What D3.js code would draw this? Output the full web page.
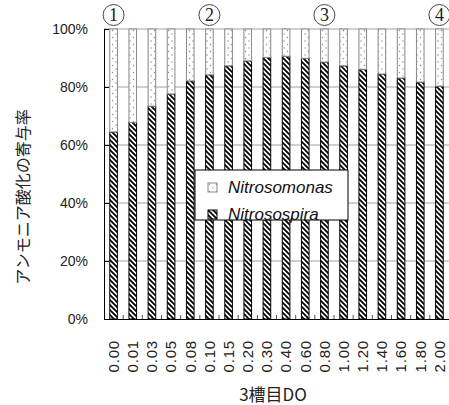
<!DOCTYPE html>
<html lang="ja">
<head>
<meta charset="utf-8">
<script src="https://cdn.jsdelivr.net/npm/d3@7"></script>
<style>
  body { margin: 0; background: #fff; }
  svg { display: block; }
</style>
</head>
<body>
<svg width="449" height="405"></svg>
<script>
// DO levels in the 3rd tank
var categories = ["0.00", "0.01", "0.03", "0.05", "0.08", "0.10", "0.15", "0.20", "0.30",
                  "0.40", "0.60", "0.80", "1.00", "1.20", "1.40", "1.60", "1.80", "2.00"];
// contribution to ammonia oxidation (%)
var nitrosospira = [64.5, 67.8, 73.4, 77.6, 82.1, 84.2, 87.3, 89.0, 90.2,
                    90.6, 89.9, 88.6, 87.3, 86.1, 84.5, 83.1, 81.7, 80.3];
var nitrosomonas = [35.5, 32.2, 26.6, 22.4, 17.9, 15.8, 12.7, 11.0, 9.8,
                    9.4, 10.1, 11.4, 12.7, 13.9, 15.5, 16.9, 18.3, 19.7];
var yTicks = [0, 20, 40, 60, 80, 100];
var markers = [{cat: "0.00", label: "1"}, {cat: "0.10", label: "2"},
               {cat: "0.80", label: "3"}, {cat: "2.00", label: "4"}];

var svg = d3.select("svg"),
    margin = {top: 29, right: 0, bottom: 86, left: 104},
    width = +svg.attr("width") - margin.left - margin.right,
    height = +svg.attr("height") - margin.top - margin.bottom;

var defs = svg.append("defs");
var stripe = defs.append("pattern").attr("id", "stripe")
    .attr("patternUnits", "userSpaceOnUse").attr("width", 5).attr("height", 5);
stripe.append("rect").attr("width", 5).attr("height", 5).attr("fill", "#fff");
stripe.append("path").attr("d", "M-1,-1L6,6M-1,4L1,6M4,-1L6,1")
    .attr("stroke", "#000").attr("stroke-width", 1.8);

var dots = defs.append("pattern").attr("id", "dots")
    .attr("patternUnits", "userSpaceOnUse").attr("width", 7).attr("height", 7);
dots.append("rect").attr("width", 7).attr("height", 7).attr("fill", "#fff");
dots.append("circle").attr("cx", 1.5).attr("cy", 1.5).attr("r", 0.7).attr("fill", "#888");
dots.append("circle").attr("cx", 5).attr("cy", 5).attr("r", 0.7).attr("fill", "#888");

var g = svg.append("g").attr("transform", "translate(" + margin.left + "," + margin.top + ")");

var x = d3.scaleBand().domain(categories).range([0, width])
    .paddingInner(0.55).paddingOuter(0.275);
var y = d3.scaleLinear().domain([0, 100]).range([height, 0]);

// grid
g.selectAll(".grid").data(yTicks.filter(function(d) { return d > 0; }))
  .enter().append("line")
    .attr("x1", 0).attr("x2", width)
    .attr("y1", function(d) { return y(d); }).attr("y2", function(d) { return y(d); })
    .attr("stroke", "#a0a0a0").attr("stroke-width", 1);

// bars
var bars = g.selectAll(".bar").data(categories).enter().append("g");
bars.append("rect")
    .attr("x", function(d) { return x(d) + 0.5; })
    .attr("y", function(d, i) { return y(nitrosospira[i]); })
    .attr("width", x.bandwidth() - 1)
    .attr("height", function(d, i) { return height - y(nitrosospira[i]); })
    .attr("fill", "url(#stripe)").attr("stroke", "#000").attr("stroke-width", 1);
bars.append("rect")
    .attr("x", function(d) { return x(d) + 0.5; })
    .attr("y", function(d, i) { return y(nitrosospira[i] + nitrosomonas[i]); })
    .attr("width", x.bandwidth() - 1)
    .attr("height", function(d, i) { return y(nitrosospira[i]) - y(nitrosospira[i] + nitrosomonas[i]); })
    .attr("fill", "url(#dots)").attr("stroke", "#888").attr("stroke-width", 1);

// y axis
var yAxis = g.append("g")
    .call(d3.axisLeft(y).tickValues(yTicks).tickFormat(function(d) { return d + "%"; })
          .tickSizeInner(-5).tickSizeOuter(0).tickPadding(16));
yAxis.select(".domain").attr("stroke", "#000");
yAxis.selectAll("text").style("font", "14px 'Liberation Sans', Arial, sans-serif").attr("fill", "#222");

// x axis
var xAxis = g.append("g").attr("transform", "translate(0," + height + ")")
    .call(d3.axisBottom(x).tickSize(0).tickSizeOuter(0));
xAxis.select(".domain").attr("stroke", "#000");
xAxis.selectAll("text")
    .attr("transform", "rotate(-90)")
    .attr("x", -21).attr("y", 0).attr("dy", "0.35em")
    .style("text-anchor", "end")
    .style("font", "15px 'Liberation Sans', Arial, sans-serif")
    .style("letter-spacing", "0.8px")
    .attr("fill", "#222");

// category boundary ticks
var step = x.step();
xAxis.selectAll(".btick").data(categories.slice(1)).enter().append("line")
    .attr("x1", function(d) { return x(d) - step * x.paddingInner() / 2; })
    .attr("x2", function(d) { return x(d) - step * x.paddingInner() / 2; })
    .attr("y1", 0).attr("y2", -4)
    .attr("stroke", "#555");

// circled markers
var mk = g.selectAll(".marker").data(markers).enter().append("g")
    .attr("transform", function(d) { return "translate(" + (x(d.cat) + x.bandwidth() / 2) + "," + (-14) + ")"; });
mk.append("circle").attr("r", 10.5).attr("fill", "#fff").attr("stroke", "#333").attr("stroke-width", 0.9);
mk.append("text").attr("text-anchor", "middle").attr("dy", "0.36em")
    .style("font", "18px 'Liberation Serif', 'DejaVu Serif', serif").attr("fill", "#222")
    .text(function(d) { return d.label; });

// legend
var legend = svg.append("g").attr("transform", "translate(195,170)");
legend.append("rect").attr("width", 153).attr("height", 50)
    .attr("fill", "#fff").attr("stroke", "#000").attr("stroke-width", 1);
var items = [{name: "Nitrosomonas", fill: "url(#dots)", stroke: "#888"},
             {name: "Nitrosospira", fill: "url(#stripe)", stroke: "#000"}];
var li = legend.selectAll(".li").data(items).enter().append("g")
    .attr("transform", function(d, i) { return "translate(13," + (13 + i * 27) + ")"; });
li.append("rect").attr("width", 9).attr("height", 9)
    .attr("fill", function(d) { return d.fill; }).attr("stroke", function(d) { return d.stroke; });
li.append("text").attr("x", 20).attr("y", 10)
    .style("font", "italic 17px 'Liberation Sans', Arial, sans-serif").attr("fill", "#111")
    .text(function(d) { return d.name; });

// axis titles
svg.append("text").attr("x", 273).attr("y", 401).attr("text-anchor", "middle")
    .style("font", "17px 'Noto Sans CJK JP', sans-serif").attr("fill", "#222")
    .text("3槽目DO");
svg.append("text").attr("transform", "translate(29,197) rotate(-90)").attr("text-anchor", "middle")
    .style("font", "16px 'Noto Sans CJK JP', sans-serif").attr("fill", "#222")
    .text("アンモニア酸化の寄与率");
</script>
</body>
</html>
